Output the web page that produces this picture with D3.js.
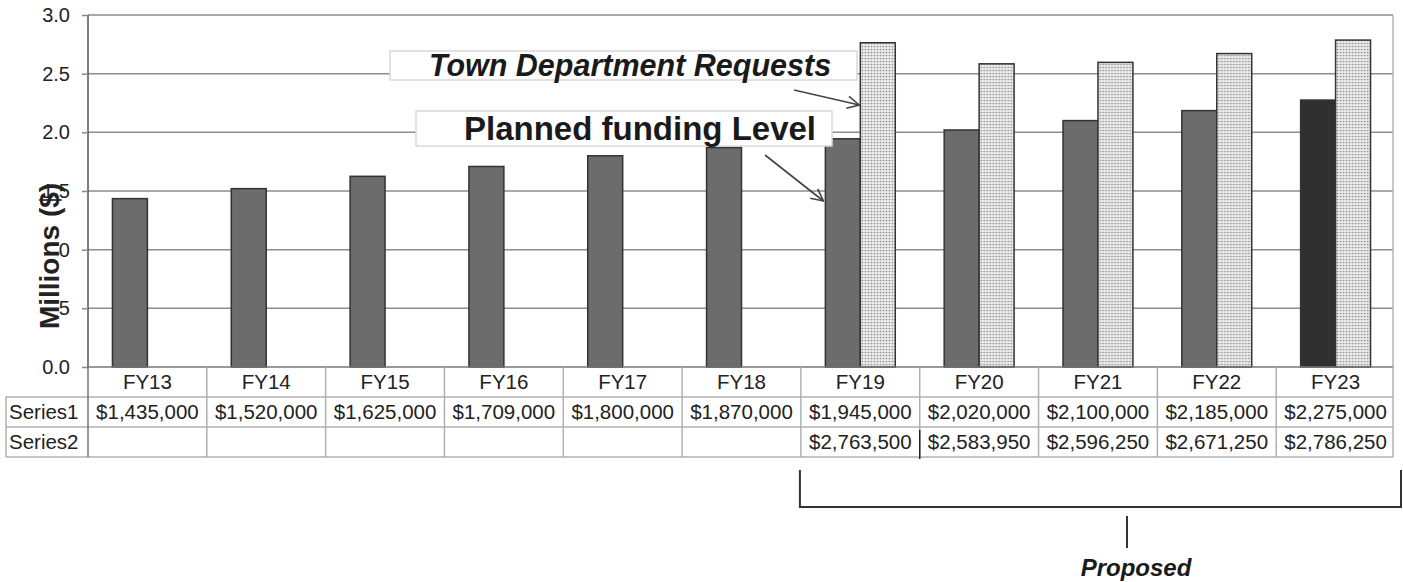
<!DOCTYPE html>
<html>
<head>
<meta charset="utf-8">
<script src="https://cdn.jsdelivr.net/npm/d3@7/dist/d3.min.js"></script>
<style>
  html, body { margin: 0; padding: 0; background: #fff; }
  svg { display: block; font-family: "Liberation Sans", Arial, sans-serif; }
</style>
</head>
<body>
<svg id="chart" width="1403" height="582"></svg>
<script>
// Budget by fiscal year
const categories = ["FY13", "FY14", "FY15", "FY16", "FY17", "FY18", "FY19", "FY20", "FY21", "FY22", "FY23"];
const series1 = [1435000, 1520000, 1625000, 1709000, 1800000, 1870000, 1945000, 2020000, 2100000, 2185000, 2275000];
const series2 = [null, null, null, null, null, null, 2763500, 2583950, 2596250, 2671250, 2786250];
const seriesNames = ["Series1", "Series2"];
const yTicks = [0, 0.5, 1.0, 1.5, 2.0, 2.5, 3.0];

(function draw() {
const svg = d3.select("#chart");
const plotL = 88, plotR = 1395, plotT = 15, plotB = 367;

const x = d3.scaleBand().domain(categories).range([plotL, plotR]).padding(0);
const xInner = d3.scaleBand().domain(seriesNames).range([0, x.bandwidth()])
  .paddingInner(0).paddingOuter(0.7);
const y = d3.scaleLinear().domain([0, 3]).range([plotB, plotT]);

// dotted fill for the requests series
const defs = svg.append("defs");
const pat = defs.append("pattern").attr("id", "dots")
  .attr("width", 3).attr("height", 3).attr("patternUnits", "userSpaceOnUse");
pat.append("rect").attr("width", 3).attr("height", 3).attr("fill", "#ececec");
pat.append("circle").attr("cx", 1.5).attr("cy", 1.5).attr("r", 0.85).attr("fill", "#8a8a8a");

const marker = defs.append("marker").attr("id", "arrow")
  .attr("viewBox", "0 0 14 14").attr("refX", 13).attr("refY", 7)
  .attr("markerWidth", 14).attr("markerHeight", 14).attr("markerUnits", "userSpaceOnUse")
  .attr("orient", "auto");
marker.append("path").attr("d", "M1,1 L13,7 L1,13").attr("fill", "none")
  .attr("stroke", "#444").attr("stroke-width", 1.6);

// plot frame and gridlines
svg.append("g").selectAll("line").data(yTicks.filter(d => d > 0)).join("line")
  .attr("x1", plotL).attr("x2", plotR - 2)
  .attr("y1", d => y(d)).attr("y2", d => y(d))
  .attr("stroke", "#8c8c8c").attr("stroke-width", 1.5);
svg.append("line").attr("x1", plotR - 2).attr("x2", plotR - 2)
  .attr("y1", plotT).attr("y2", plotB).attr("stroke", "#b5b5b5").attr("stroke-width", 1.5);

// bars
const rows = categories.map((c, i) => ({ cat: c, i, values: [series1[i], series2[i]] }));
const groups = svg.append("g").selectAll("g").data(rows).join("g")
  .attr("transform", d => `translate(${x(d.cat)},0)`);
groups.selectAll("rect")
  .data(d => d.values.map((v, k) => ({ key: seriesNames[k], v, last: d.i === categories.length - 1 }))
    .filter(e => e.v != null))
  .join("rect")
  .attr("x", e => xInner(e.key))
  .attr("width", xInner.bandwidth())
  .attr("y", e => y(e.v / 1e6))
  .attr("height", e => plotB - y(e.v / 1e6))
  .attr("fill", e => e.key === "Series2" ? "url(#dots)" : (e.last ? "#303030" : "#6c6c6c"))
  .attr("stroke", "#333")
  .attr("stroke-width", 1.5);

// y axis
const yAxis = svg.append("g").attr("transform", `translate(${plotL},0)`)
  .call(d3.axisLeft(y).tickValues(yTicks).tickFormat(d3.format(".1f")).tickSize(6).tickPadding(12));
yAxis.select(".domain").attr("stroke", "#555").attr("stroke-width", 1.5).attr("d", `M0,${plotT}V${plotB}`);
yAxis.selectAll(".tick line").attr("stroke", "#888").attr("stroke-width", 1.5);
yAxis.selectAll(".tick text").attr("font-size", 20).attr("fill", "#222")
  .attr("font-family", "Liberation Sans, Arial, sans-serif");

// axis title with its white backing
svg.append("rect").attr("x", 36).attr("y", 198).attr("width", 21).attr("height", 136).attr("fill", "#fff");
svg.append("text")
  .attr("transform", "translate(59,256) rotate(-90)")
  .attr("text-anchor", "middle")
  .attr("font-size", 28).attr("font-weight", "bold").attr("fill", "#222")
  .text("Millions ($)");

// x axis baseline
svg.append("line").attr("x1", plotL).attr("x2", plotR - 2).attr("y1", plotB).attr("y2", plotB)
  .attr("stroke", "#777").attr("stroke-width", 1.5);

// data table
const rowH = 30;
const fs = 20.5;
const tbl = svg.append("g");
const tableTop = plotB, tableBottom = plotB + rowH * 3;
const gridColor = "#b0b0b0";
[plotB + rowH, plotB + rowH * 2, tableBottom].forEach(yy => {
  tbl.append("line").attr("x1", 6).attr("x2", plotR - 2).attr("y1", yy).attr("y2", yy)
    .attr("stroke", gridColor).attr("stroke-width", 1.5);
});
const edges = categories.map(c => x(c)).concat([plotR - 2]);
tbl.selectAll("line.v").data(edges).join("line").attr("class", "v")
  .attr("x1", d => d).attr("x2", d => d).attr("y1", tableTop).attr("y2", tableBottom)
  .attr("stroke", (d, i) => i === 0 ? "#777" : gridColor).attr("stroke-width", 1.5);
tbl.append("line").attr("x1", 6).attr("x2", 6).attr("y1", plotB + rowH).attr("y2", tableBottom)
  .attr("stroke", gridColor).attr("stroke-width", 1.5);
tbl.append("line").attr("x1", x("FY20")).attr("x2", x("FY20"))
  .attr("y1", plotB + rowH * 2 + 3).attr("y2", tableBottom + 2)
  .attr("stroke", "#222").attr("stroke-width", 1.5);

const money = d3.format("$,");
tbl.selectAll("text.cat").data(categories).join("text").attr("class", "cat")
  .attr("x", d => x(d) + x.bandwidth() / 2).attr("y", plotB + 22)
  .attr("text-anchor", "middle").attr("font-size", fs).attr("fill", "#222").text(d => d);
[series1, series2].forEach((vals, k) => {
  const yy = plotB + rowH * (k + 1) + 22;
  tbl.append("text").attr("x", 9).attr("y", yy).attr("font-size", fs).attr("fill", "#222")
    .text(seriesNames[k]);
  tbl.selectAll(null).data(categories.map((c, i) => ({ c, v: vals[i] })).filter(d => d.v != null))
    .join("text")
    .attr("x", d => x(d.c) + x.bandwidth() / 2).attr("y", yy)
    .attr("text-anchor", "middle").attr("font-size", fs).attr("fill", "#222")
    .text(d => money(d.v));
});

// callouts
function callout(bx, by, bw, bh, label, italic, size, tx, ty) {
  svg.append("rect").attr("x", bx).attr("y", by).attr("width", bw).attr("height", bh)
    .attr("fill", "#fff").attr("stroke", "#d8d8d8").attr("stroke-width", 1.5);
  svg.append("text").attr("x", tx).attr("y", ty)
    .attr("text-anchor", "middle").attr("font-size", size).attr("font-weight", "bold")
    .attr("font-style", italic ? "italic" : "normal").attr("fill", "#1a1a1a").text(label);
}
callout(390, 51, 467, 29, "Town Department Requests", true, 30.5, 630, 76);
callout(416, 111, 416, 35, "Planned funding Level", false, 33, 640, 140);

const fy19 = x("FY19");
svg.append("line").attr("x1", 794).attr("y1", 90)
  .attr("x2", fy19 + xInner("Series2") - 1).attr("y2", 105)
  .attr("stroke", "#444").attr("stroke-width", 1.6).attr("marker-end", "url(#arrow)");
svg.append("line").attr("x1", 765).attr("y1", 155)
  .attr("x2", fy19 + xInner("Series1") - 2).attr("y2", 201)
  .attr("stroke", "#444").attr("stroke-width", 1.6).attr("marker-end", "url(#arrow)");

// bracket for the proposed years
const bx0 = x("FY19") - 1, bx1 = 1401, byTop = 470, byBot = 507;
svg.append("path")
  .attr("d", `M${bx0},${byTop}V${byBot}H${bx1}V${byTop}`)
  .attr("fill", "none").attr("stroke", "#333").attr("stroke-width", 2);
svg.append("line").attr("x1", 1127).attr("x2", 1127).attr("y1", 516).attr("y2", 548)
  .attr("stroke", "#333").attr("stroke-width", 2);
svg.append("text").attr("x", 1136).attr("y", 576).attr("text-anchor", "middle")
  .attr("font-size", 24).attr("font-weight", "bold").attr("font-style", "italic")
  .attr("fill", "#1a1a1a").text("Proposed");
})();
</script>
</body>
</html>
